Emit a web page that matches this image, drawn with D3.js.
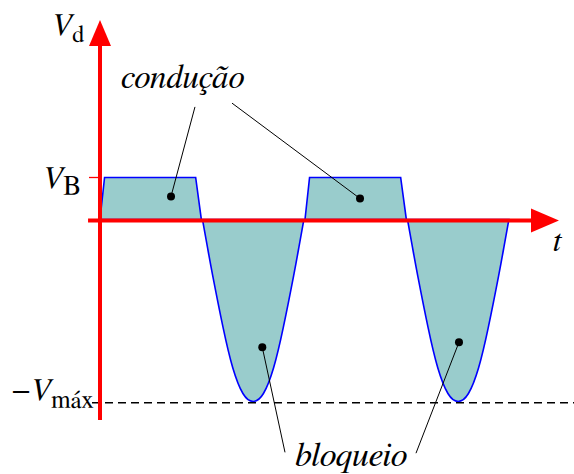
<!DOCTYPE html>
<html>
<head>
<meta charset="utf-8">
<script src="https://cdn.jsdelivr.net/npm/d3@7"></script>
<style>
  html, body { margin: 0; padding: 0; background: #fff; }
  svg { display: block; }
</style>
</head>
<body>
<svg id="chart" width="574" height="474"></svg>
<script>
// ---------- data (schematic units: phase in degrees, voltage in units of V_B) ----------
const VB = 1;
const VMAX = 4.33;
const periodStarts = [0, 360];

// conduction pulse (one period), phase / voltage
const condPhase = [0, 8, 168, 178];
const condV     = [0, 1, 1, 0];

// blocking half-wave (one period)
const blockPhase = [180, 189, 198, 216, 233, 251, 269, 287, 305, 322, 340, 349, 358];
const blockV     = [0, -0.68, -1.34, -2.56, -3.52, -4.14, -4.33, -4.14, -3.52, -2.56, -1.34, -0.68, 0];

// annotation markers (phase, voltage) and their label line ends
const condDots   = [[124.7, 0.55], [456.6, 0.50]];
const condEnds   = [[166.8, 2.68], [231.8, 2.77]];
const blockDots  = [[285.0, -3.04], [630.4, -2.92]];
const blockEnds  = [[324.9, -5.54], [554.9, -5.56]];

// axis extents
const tAxisStart = -21, tAxisTip = 806;
const vAxisBottom = -4.77, vAxisTip = 4.75;

// ---------- drawing ----------
const FONT = "FreeSerif, 'Liberation Serif', serif";
const svg = d3.select("#chart");
const x = d3.scaleLinear().domain([0, 720]).range([100, 510]);
const y = d3.scaleLinear().domain([-VMAX, VB]).range([401.5, 177.5]);

const fillCol = "#99cccc", strokeCol = "#0000ff", red = "#ff0000";

const condArea = d3.area().x(d => x(d[0])).y0(y(0)).y1(d => y(d[1])).curve(d3.curveLinear);
const blockArea = d3.area().x(d => x(d[0])).y0(y(0)).y1(d => y(d[1])).curve(d3.curveNatural);

periodStarts.forEach(p0 => {
  const c = condPhase.map((t, i) => [p0 + t, condV[i]]);
  const b = blockPhase.map((t, i) => [p0 + t, blockV[i]]);
  svg.append("path").attr("d", condArea(c))
     .attr("fill", fillCol).attr("stroke", strokeCol).attr("stroke-width", 1.6)
     .attr("stroke-linejoin", "miter");
  svg.append("path").attr("d", blockArea(b))
     .attr("fill", fillCol).attr("stroke", strokeCol).attr("stroke-width", 1.6);
});

// dashed -Vmax line
svg.append("line")
  .attr("x1", 92).attr("x2", 574)
  .attr("y1", y(-VMAX) + 1.3).attr("y2", y(-VMAX) + 1.3)
  .attr("stroke", "#000").attr("stroke-width", 1.5).attr("stroke-dasharray", "8,5");

// axes
const ax0 = x(0), ay0 = y(0) + 1;
svg.append("line").attr("x1", x(tAxisStart)).attr("x2", x(tAxisTip) - 26)
  .attr("y1", ay0).attr("y2", ay0).attr("stroke", red).attr("stroke-width", 4);
svg.append("path")
  .attr("d", `M${x(tAxisTip)},${ay0} L${x(tAxisTip) - 28},${ay0 - 12} L${x(tAxisTip) - 28},${ay0 + 12} Z`)
  .attr("fill", red);
svg.append("line").attr("x1", ax0).attr("x2", ax0)
  .attr("y1", y(vAxisBottom)).attr("y2", y(vAxisTip) + 24)
  .attr("stroke", red).attr("stroke-width", 4);
svg.append("path")
  .attr("d", `M${ax0},${y(vAxisTip)} L${ax0 - 11},${y(vAxisTip) + 26} L${ax0 + 11},${y(vAxisTip) + 26} Z`)
  .attr("fill", red);

// VB tick
svg.append("line").attr("x1", ax0 - 11).attr("x2", ax0)
  .attr("y1", y(VB)).attr("y2", y(VB)).attr("stroke", red).attr("stroke-width", 1.3);

// leader lines and dots
condDots.concat(blockDots).forEach((d, i) => {
  const e = condEnds.concat(blockEnds)[i];
  svg.append("line").attr("x1", x(d[0])).attr("y1", y(d[1]))
     .attr("x2", x(e[0])).attr("y2", y(e[1]))
     .attr("stroke", "#000").attr("stroke-width", 1);
  svg.append("circle").attr("cx", x(d[0])).attr("cy", y(d[1])).attr("r", 4).attr("fill", "#000");
});

// labels
function label(xp, yp, size) {
  return svg.append("text").attr("x", xp).attr("y", yp)
    .attr("font-family", FONT).attr("font-size", size).attr("fill", "#000");
}
const vd = label(51, 35, 32);
vd.append("tspan").attr("font-style", "italic").text("V");
vd.append("tspan").attr("font-size", 24).attr("dy", 7).text("d");

const vb = label(42, y(VB) + 10, 32);
vb.append("tspan").attr("font-style", "italic").text("V");
vb.append("tspan").attr("font-size", 27).attr("dy", 6).text("B");

const vm = label(12, y(-VMAX) - 1.5, 32);
vm.append("tspan").text("\u2212");
vm.append("tspan").attr("font-style", "italic").text("V");
vm.append("tspan").attr("font-size", 25).attr("dy", 8).text("máx");

label(121, 88, 33).attr("font-style", "italic").text("condução");
label(295, 466, 34).attr("font-style", "italic").text("bloqueio");
label(553, 251, 32).attr("font-style", "italic").text("t");
</script>
</body>
</html>
